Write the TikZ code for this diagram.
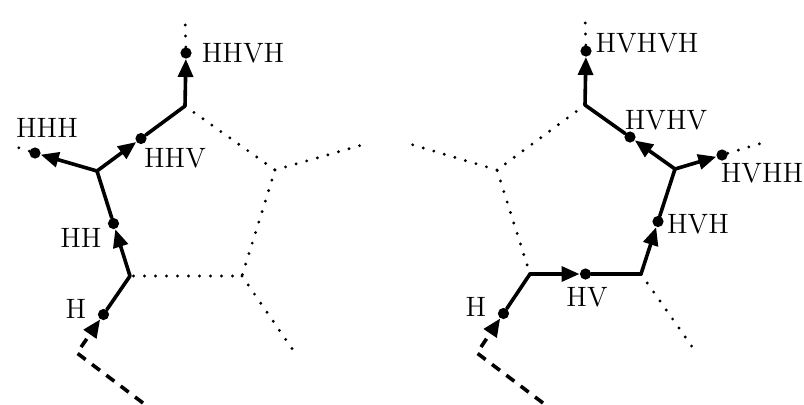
\documentclass[tikz,border=0pt]{standalone}
\usepackage{fontspec}
\setmainfont{Latin Modern Roman}
\usetikzlibrary{arrows.meta,calc}
\begin{document}
\begin{tikzpicture}[x=0.5pt,y=-0.5pt,
  solidedge/.style={line width=1.8pt,line join=round,line cap=round},
  dotedge/.style={line width=1.6pt,line cap=round,dash pattern=on 0pt off 5.5pt},
  dashedge/.style={line width=1.8pt,dash pattern=on 5pt off 4pt},
  arr/.style={-{Triangle[length=9pt,width=7.5pt]}},
  dotn/.style={circle,fill=black,inner sep=0pt,minimum size=5.6pt},
  lab/.style={inner sep=0pt,font=\fontsize{14}{17}\selectfont}]
\useasboundingbox (0,0) rectangle (804,404);
% ---------- left figure ----------
\coordinate (LA) at (130,276);
\coordinate (LB) at (242,276);
\coordinate (LC) at (275,170);
\coordinate (LD) at (185,106);
\coordinate (LE) at (97,171);
\coordinate (LDo) at (185,15);
\coordinate (LEo) at (10,145);
\coordinate (LCo) at (362,145);
\coordinate (LBo) at (293,350);
\coordinate (LAc) at (77,353);
\coordinate (LAe) at (143,403);
\draw[dotedge] (LD) -- (LC) -- (LB) -- (LA);
\draw[dotedge] (LC) -- (LCo);
\draw[dotedge] (LB) -- (LBo);
\node[dotn] (lH) at ($(LA)!0.5!(LAc)$) {};
\node[dotn] (lHH) at ($(LA)!0.5!(LE)$) {};
\node[dotn] (lHHV) at ($(LE)!0.5!(LD)$) {};
\node[dotn] (lHHH) at (35,153) {};
\node[dotn] (lHHVH) at (186,53) {};
\draw[dotedge] (lHHVH) -- (LDo);
\draw[dotedge] (lHHH) -- (LEo);
\draw[dashedge,arr] (LAe) -- (LAc) -- (lH);
\draw[solidedge] (lH) -- (LA);
\draw[solidedge,arr] (LA) -- (lHH);
\draw[solidedge] (lHH) -- (LE);
\draw[solidedge,arr] (LE) -- (lHHV);
\draw[solidedge] (lHHV) -- (LD);
\draw[solidedge,arr] (LD) -- (lHHVH);
\draw[solidedge,arr] (LE) -- (lHHH);
\node[lab] (tlHHVH) at (243,53) {HHVH};
\node[lab] (tlHHH) at (47,128) {HHH};
\node[lab] (tlHHV) at (175,158) {HHV};
\node[lab] (tlHH) at (81,238) {HH};
\node[lab] (tlH) at (76,309) {H};
% ---------- right figure ----------
\coordinate (RA) at (530,274);
\coordinate (RB) at (641,274);
\coordinate (RC) at (675,169);
\coordinate (RD) at (585,105);
\coordinate (RE) at (497,170);
\coordinate (RDo) at (585,13);
\coordinate (REo) at (410,144);
\coordinate (RCo) at (762,143);
\coordinate (RBo) at (693,348);
\coordinate (RAc) at (477,353);
\coordinate (RAe) at (543,403);
\draw[dotedge] (RD) -- (RE) -- (RA);
\draw[dotedge] (RE) -- (REo);
\draw[dotedge] (RB) -- (RBo);
\node[dotn] (rH) at ($(RA)!0.5!(RAc)$) {};
\node[dotn] (rHV) at ($(RA)!0.5!(RB)$) {};
\node[dotn] (rHVH) at ($(RB)!0.5!(RC)$) {};
\node[dotn] (rHVHV) at ($(RC)!0.5!(RD)$) {};
\node[dotn] (rHVHH) at (722,155) {};
\node[dotn] (rHVHVH) at (586,51) {};
\draw[dotedge] (rHVHVH) -- (RDo);
\draw[dotedge] (rHVHH) -- (RCo);
\draw[dashedge,arr] (RAe) -- (RAc) -- (rH);
\draw[solidedge] (rH) -- (RA);
\draw[solidedge,arr] (RA) -- (rHV);
\draw[solidedge] (rHV) -- (RB);
\draw[solidedge,arr] (RB) -- (rHVH);
\draw[solidedge] (rHVH) -- (RC);
\draw[solidedge,arr] (RC) -- (rHVHV);
\draw[solidedge] (rHVHV) -- (RD);
\draw[solidedge,arr] (RD) -- (rHVHVH);
\draw[solidedge,arr] (RC) -- (rHVHH);
\node[lab] (trHVHVH) at (647,43) {HVHVH};
\node[lab] (trHVHV) at (666,120) {HVHV};
\node[lab] (trHVHH) at (762,173) {HVHH};
\node[lab] (trHVH) at (698,224) {HVH};
\node[lab] (trHV) at (587,297) {HV};
\node[lab] (trH) at (476,307) {H};
\end{tikzpicture}
\end{document}
